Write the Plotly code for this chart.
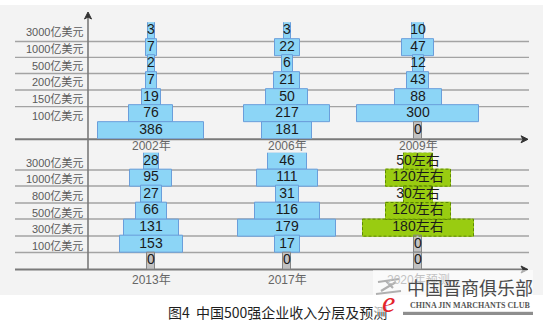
import plotly.graph_objects as go

# ---------------- data ----------------
levels_top = ['3000亿美元', '1000亿美元', '500亿美元', '200亿美元', '150亿美元', '100亿美元', '']
levels_bottom = ['3000亿美元', '1000亿美元', '800亿美元', '500亿美元', '300亿美元', '100亿美元', '']
years_top = ['2002年', '2006年', '2009年']
years_bottom = ['2013年', '2017年', '2020年预测']

counts_2002 = [3, 7, 2, 7, 19, 76, 386]
counts_2006 = [3, 22, 6, 21, 50, 217, 181]
counts_2009 = [10, 47, 12, 43, 88, 300, 0]
counts_2013 = [28, 95, 27, 66, 131, 153, 0]
counts_2017 = [46, 111, 31, 116, 179, 17, 0]
counts_2020 = [50, 120, 30, 120, 180, 0, 0]
labels_2020 = ['50左右', '120左右', '30左右', '120左右', '180左右', '0', '0']

# drawn bar lengths as they appear in the picture (the bars are not to scale)
len_2002 = [7, 11, 7, 11, 19, 44, 106]
len_2006 = [7, 25, 11, 26, 42, 86, 50]
len_2009 = [12, 32, 11, 22, 47, 122, 8]
len_2013 = [15, 42, 21, 31, 55, 63, 8]
len_2017 = [39, 61, 23, 65, 98, 25, 8]
len_2020 = [29, 65, 29, 65, 111, 8, 8]

caption = '图4  中国500强企业收入分层及预测'

# ---------------- layout helpers ----------------
W, H = 543, 328
def px(x):
    return x / W
def py(y):
    return 1 - y / H

BLUE, BLUE_LINE = '#8cd5f6', '#6a9edb'
GRAY, GRAY_LINE = '#c2c2c2', '#858585'
GREEN, GREEN_LINE = '#99cc11', '#5e8a00'
TXT_FONT = 'Liberation Sans, Noto Sans CJK SC, sans-serif'

col_centers = [151, 287, 418]
half_span = 65
rows = list(range(7))
BAR_H = 1.02

panels = [
    dict(counts=[counts_2002, counts_2006, counts_2009],
         lens=[len_2002, len_2006, len_2009],
         labels=[None, None, None],
         green=[False, False, False],
         years=years_top, levels=levels_top,
         top=30.5 - 8.33, bottom=130.5 + 8.33, year_y=146,
         grid=[41.5, 57.3, 73.5, 90, 106.7], axis_y=139.3),
    dict(counts=[counts_2013, counts_2017, counts_2020],
         lens=[len_2013, len_2017, len_2020],
         labels=[None, None, labels_2020],
         green=[False, False, True],
         years=years_bottom, levels=levels_bottom,
         top=161 - 8.33, bottom=261 + 8.33, year_y=280,
         grid=[170, 186, 203, 219, 236, 252.5], axis_y=269.5),
]

fig = go.Figure()
layout = dict(width=W, height=H, margin=dict(l=0, r=0, t=0, b=0), autosize=False,
              paper_bgcolor='white', plot_bgcolor='rgba(0,0,0,0)', showlegend=False)
shapes = []
annotations = []

# background panel
shapes.append(dict(type='rect', xref='paper', yref='paper', x0=0, x1=1, y0=py(295), y1=py(5),
                   fillcolor='#f3f3f3', line=dict(width=0), layer='below'))

k = 0
for p_i, p in enumerate(panels):
    # gridlines
    for gy in p['grid']:
        shapes.append(dict(type='line', xref='paper', yref='paper', x0=px(15), x1=px(529),
                           y0=py(gy), y1=py(gy), line=dict(color='#a3a3a3', width=1.3),
                           layer='below'))
    # x axis line with arrow
    shapes.append(dict(type='line', xref='paper', yref='paper', x0=px(15), x1=px(526),
                       y0=py(p['axis_y']), y1=py(p['axis_y']),
                       line=dict(color='#7a7a7a', width=2), layer='below'))
    ay = p['axis_y']
    shapes.append(dict(type='path', xref='paper', yref='paper',
                       path=f"M {px(521)},{py(ay-3.5)} L {px(528)},{py(ay)} L {px(521)},{py(ay+3.5)} L {px(523)},{py(ay)} Z",
                       fillcolor='#333', line=dict(color='#333', width=1), layer='above'))
    for c in range(3):
        k += 1
        xa = 'x' if k == 1 else f'x{k}'
        ya = 'y' if k == 1 else f'y{k}'
        xkey = 'xaxis' if k == 1 else f'xaxis{k}'
        ykey = 'yaxis' if k == 1 else f'yaxis{k}'
        cc = col_centers[c]
        layout[xkey] = dict(domain=[px(cc - half_span), px(cc + half_span)],
                            range=[-half_span, half_span], visible=False,
                            fixedrange=True, anchor=ya)
        layout[ykey] = dict(domain=[py(p['bottom']), py(p['top'])],
                            range=[6.5, -0.5], visible=False, fixedrange=True, anchor=xa)
        counts = p['counts'][c]
        lens = p['lens'][c]
        green = p['green'][c]
        labels = p['labels'][c] or [str(v) for v in counts]
        fill = [(GREEN if green else BLUE) if v > 0 else GRAY for v in counts]
        line_col = [(GREEN if green else BLUE_LINE) if v > 0 else GRAY_LINE for v in counts]
        fig.add_trace(go.Bar(orientation='h', x=lens, base=[-l / 2 for l in lens], y=rows,
                             width=BAR_H, marker=dict(color=fill, line=dict(color=line_col, width=1)),
                             xaxis=xa, yaxis=ya, hoverinfo='skip'))
        if green:
            ox, oy = [], []
            for r, v, l in zip(rows, counts, lens):
                if v > 0:
                    ox += [-l / 2, l / 2, l / 2, -l / 2, -l / 2, None]
                    oy += [r - BAR_H / 2, r - BAR_H / 2, r + BAR_H / 2, r + BAR_H / 2, r - BAR_H / 2, None]
            fig.add_trace(go.Scatter(x=ox, y=oy, mode='lines',
                                     line=dict(color=GREEN_LINE, width=1, dash='3px,2px'),
                                     xaxis=xa, yaxis=ya, hoverinfo='skip', cliponaxis=False))
        fig.add_trace(go.Scatter(x=[0] * len(rows), y=rows, mode='text', text=labels,
                                 textposition='middle center',
                                 textfont=dict(size=14, color='#1a1a1a', family=TXT_FONT),
                                 xaxis=xa, yaxis=ya, hoverinfo='skip', cliponaxis=False))
        # year label
        annotations.append(dict(xref=xa, yref='paper', x=0, y=py(p['year_y']), text=p['years'][c],
                                showarrow=False, xanchor='center', yanchor='middle',
                                font=dict(size=12, color='#666', family=TXT_FONT)))
    # level labels
    ya_first = 'y' if p_i == 0 else 'y4'
    for r, lab in zip(rows, p['levels']):
        if lab:
            annotations.append(dict(xref='paper', yref=ya_first, x=px(85), y=r + 0.1, text=lab,
                                    showarrow=False, xanchor='right', yanchor='middle',
                                    font=dict(size=11, color='#5a5a5a', family=TXT_FONT)))

# vertical axis with arrow
shapes.append(dict(type='line', xref='paper', yref='paper', x0=px(88), x1=px(88),
                   y0=py(270), y1=py(15), line=dict(color='#7a7a7a', width=1.6), layer='below'))
shapes.append(dict(type='path', xref='paper', yref='paper',
                   path=f"M {px(84.5)},{py(19)} L {px(88)},{py(12)} L {px(91.5)},{py(19)} L {px(88)},{py(17)} Z",
                   fillcolor='#333', line=dict(color='#333', width=1), layer='above'))

# caption
annotations.append(dict(xref='paper', yref='paper', x=px(277), y=py(312), text=caption,
                        showarrow=False, xanchor='center', yanchor='middle',
                        font=dict(size=14, color='#1e1e1e', family='Noto Sans CJK SC')))

# watermark box (semi-transparent, lets text beneath show faintly)
annotations.append(dict(xref='paper', yref='paper', x=px(373), y=py(270), text=' ',
                        showarrow=False, xanchor='left', yanchor='top', width=160, height=42,
                        borderpad=0, borderwidth=0, bgcolor='rgba(255,255,255,0.6)'))
shapes.append(dict(type='rect', xref='paper', yref='paper', x0=px(403), x1=px(533),
                   y0=py(315), y1=py(311.5), fillcolor='#8e8e8e', line=dict(width=0), layer='above'))
# logo brush strokes (drawn as shapes)
shapes.append(dict(type='path', xref='paper', yref='paper',
                   path=(f"M {px(378)},{py(282)} L {px(399)},{py(279)} "
                         f"M {px(386)},{py(281)} L {px(393)},{py(288)} "
                         f"M {px(396)},{py(282)} L {px(381)},{py(291)} "
                         f"M {px(376)},{py(294)} L {px(401)},{py(291)}"),
                   line=dict(color='#3a3a3a', width=2.2), layer='above'))
annotations.append(dict(xref='paper', yref='paper', x=px(470), y=py(287), text='中国晋商俱乐部',
                        showarrow=False, xanchor='center', yanchor='middle',
                        font=dict(size=18, color='#4a4a4a', family='Noto Sans CJK SC')))
annotations.append(dict(xref='paper', yref='paper', x=px(470), y=py(305), text='CHINA JIN MARCHANTS CLUB',
                        showarrow=False, xanchor='center', yanchor='middle',
                        font=dict(size=8, color='#555', family='Liberation Serif', weight='bold')))
annotations.append(dict(xref='paper', yref='paper', x=px(388), y=py(301), text='e',
                        showarrow=False, xanchor='center', yanchor='middle',
                        font=dict(size=30, color='#e3242b', family='Liberation Serif', style='italic')))

layout['shapes'] = shapes
layout['annotations'] = annotations
layout['bargap'] = 0
fig.update_layout(**layout)
fig.write_html('out.html')
